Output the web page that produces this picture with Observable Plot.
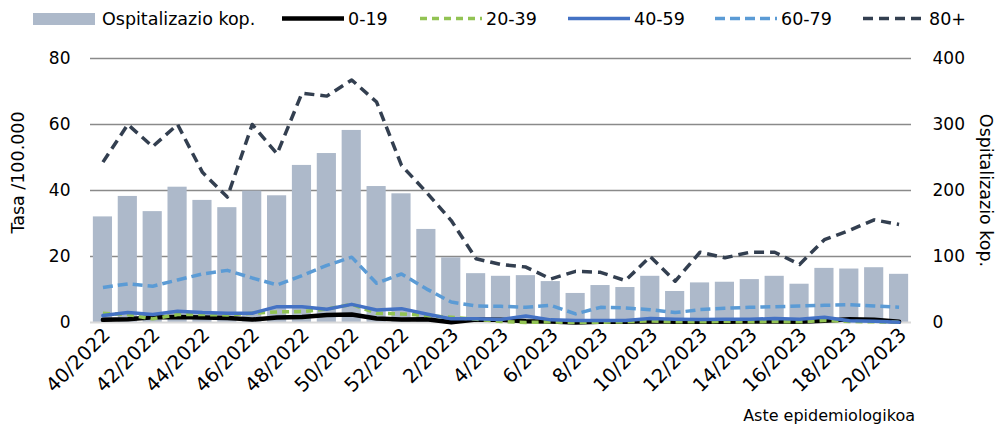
<!DOCTYPE html>
<html>
<head>
<meta charset="utf-8">
<script src="https://cdn.jsdelivr.net/npm/d3@7"></script>
<script src="https://cdn.jsdelivr.net/npm/@observablehq/plot@0.6"></script>
<style>
  body { margin: 0; background: #fff; font-family: "DejaVu Sans", sans-serif; }
  #chart { position: relative; width: 999px; height: 430px; overflow: hidden; }
  #legend { display: block; }
  #caption { position: absolute; right: 84px; top: 406px; font-size: 16px; color: #000; white-space: nowrap; }
</style>
</head>
<body>
<div id="chart"></div>
<script>
// Epidemiological weeks (week/year)
const weeks = [
  "40/2022","41/2022","42/2022","43/2022","44/2022","45/2022","46/2022","47/2022",
  "48/2022","49/2022","50/2022","51/2022","52/2022",
  "1/2023","2/2023","3/2023","4/2023","5/2023","6/2023","7/2023","8/2023","9/2023",
  "10/2023","11/2023","12/2023","13/2023","14/2023","15/2023","16/2023","17/2023",
  "18/2023","19/2023","20/2023"
];
// Weeks that carry an axis label
const tickWeeks = [
  "40/2022","42/2022","44/2022","46/2022","48/2022","50/2022","52/2022",
  "2/2023","4/2023","6/2023","8/2023","10/2023","12/2023","14/2023","16/2023",
  "18/2023","20/2023"
];

// Number of hospitalisations (right axis)
const hospitalizations = [160,191,168,205,185,174,199,192,238,256,291,206,195,141,98,74,70,71,62,44,56,53,70,47,60,61,65,70,58,82,81,83,73];

// Rate per 100,000 by age group (left axis)
const rate0to19  = [0.8,1.0,1.6,1.7,1.5,1.4,0.9,1.5,1.7,2.3,2.4,1.2,0.9,1.0,0.1,0.9,0.8,0.4,0.3,0.0,0.2,0.2,0.4,0.2,0.3,0.2,0.3,0.3,0.2,0.5,1.0,0.8,0.2];
const rate20to39 = [2.8,2.4,1.1,2.4,2.4,2.3,2.8,3.2,3.3,4.1,5.5,2.8,2.6,2.1,1.6,1.0,0.3,0.0,0.2,0.0,0.1,0.2,0.5,0.2,0.2,0.3,0.2,0.3,0.2,0.6,0.3,0.2,0.1];
const rate40to59 = [2.1,3.0,2.4,3.4,3.0,2.8,2.8,4.8,4.8,4.0,5.5,3.8,4.2,2.6,1.1,1.1,0.9,2.0,0.8,0.6,0.6,0.6,1.2,1.0,0.9,1.0,1.0,1.2,1.0,1.6,0.5,0.4,0.1];
const rate60to79 = [10.6,11.7,11.0,12.9,14.7,15.8,13.5,11.4,14.2,17.3,19.8,11.9,14.7,10.2,6.2,5.0,4.9,4.6,5.2,2.6,4.6,4.4,3.9,3.0,3.9,4.3,4.6,4.8,5.0,5.2,5.4,5.0,4.6];
const rate80plus = [48.6,60,53.3,60,45.5,38,60,51.1,69.5,68.6,73.5,66.8,47.6,39.5,30.9,19.3,17.6,16.8,13.2,15.5,15.2,12.7,20,12.5,21.3,19.6,21.3,21.3,17.6,25.1,27.9,31.1,29.7];

const barLabel = "Ospitalizazio kop.";
const groupNames = ["0-19", "20-39", "40-59", "60-79", "80+"];
const groupValues = [rate0to19, rate20to39, rate40to59, rate60to79, rate80plus];

// Drawing style for each age group line
const groupStyle = {
  "0-19":  {stroke: "#000000", width: 4.5, dash: null},
  "20-39": {stroke: "#92c353", width: 3.5, dash: "7,5"},
  "40-59": {stroke: "#4472c4", width: 3.5, dash: null},
  "60-79": {stroke: "#5b9bd5", width: 3.5, dash: "10,5"},
  "80+":   {stroke: "#333f50", width: 3.5, dash: "10,6"}
};
const barColor = "#adb9ca";
const hospPerRate = 5; // right axis (0–400) against left axis (0–80)

const barRows = weeks.map((w, i) => ({week: w, hosp: hospitalizations[i]}));

const chart = document.getElementById("chart");

// ---- Legend ----
const legendW = 999, legendH = 36;
const legend = d3.create("svg").attr("id", "legend").attr("width", legendW).attr("height", legendH);
const legendX = [33, 282, 420, 568, 715, 863];
const swatchW = 62, swatchY = 18.5;
legend.append("rect").attr("x", legendX[0]).attr("y", 13).attr("width", swatchW).attr("height", 12).attr("fill", barColor);
legend.append("text").attr("x", legendX[0] + swatchW + 7).attr("y", swatchY).attr("dy", "0.36em")
  .attr("font-size", 17.5).attr("font-family", "DejaVu Sans").text(barLabel);
groupNames.forEach((g, i) => {
  const s = groupStyle[g];
  const x0 = legendX[i + 1];
  legend.append("line").attr("x1", x0).attr("x2", x0 + swatchW).attr("y1", swatchY).attr("y2", swatchY)
    .attr("stroke", s.stroke).attr("stroke-width", s.width).attr("stroke-dasharray", s.dash);
  legend.append("text").attr("x", x0 + swatchW + 4).attr("y", swatchY).attr("dy", "0.36em")
    .attr("font-size", 17.5).attr("font-family", "DejaVu Sans").text(g);
});
chart.appendChild(legend.node());

// ---- Main chart ----
const lineMarks = groupNames.map((g, gi) => {
  const s = groupStyle[g];
  const rows = weeks.map((w, i) => ({week: w, value: groupValues[gi][i]}));
  return Plot.line(rows, {
    x: "week", y: "value",
    stroke: s.stroke, strokeWidth: s.width,
    strokeDasharray: s.dash || undefined,
    strokeLinejoin: "round", strokeLinecap: s.dash ? "butt" : "round"
  });
});

const yTicks = [0, 20, 40, 60, 80];

const plot = Plot.plot({
  width: 999,
  height: 368,
  marginTop: 22,
  marginBottom: 82,
  marginLeft: 90,
  marginRight: 88,
  style: {fontFamily: "DejaVu Sans", fontSize: "17px", color: "#000", background: "#fff"},
  x: {domain: weeks, paddingInner: 0.23, paddingOuter: 0.115, round: false, axis: null},
  y: {domain: [0, 80], axis: null},
  marks: [
    Plot.gridY(yTicks.slice(1), {stroke: "#8a8a8a", strokeOpacity: 1, strokeWidth: 1.5}),
    Plot.barY(barRows, {x: "week", y: d => d.hosp / hospPerRate, fill: barColor}),
    Plot.ruleY([0], {stroke: "#d9d9d9", strokeWidth: 2}),
    ...lineMarks,
    Plot.axisY(yTicks, {anchor: "left", tickSize: 0, tickPadding: 20, label: null, fontSize: 17}),
    Plot.axisY(yTicks, {anchor: "right", tickSize: 0, tickPadding: 21, label: null, fontSize: 17,
      tickFormat: d => d * hospPerRate}),
    Plot.axisX(tickWeeks, {anchor: "bottom", tickSize: 0, tickPadding: 9, tickRotate: -45, dx: 4, label: null, fontSize: 19.5}),
    Plot.text(["Tasa /100.000"], {frameAnchor: "left", textAnchor: "middle", dx: -72, dy: -18, rotate: -90, fontSize: 17.5}),
    Plot.text([barLabel], {frameAnchor: "right", textAnchor: "middle", dx: 74, rotate: 90, fontSize: 17.5})
  ]
});
chart.appendChild(plot);

const caption = document.createElement("div");
caption.id = "caption";
caption.textContent = "Aste epidemiologikoa";
chart.appendChild(caption);
</script>
</body>
</html>
